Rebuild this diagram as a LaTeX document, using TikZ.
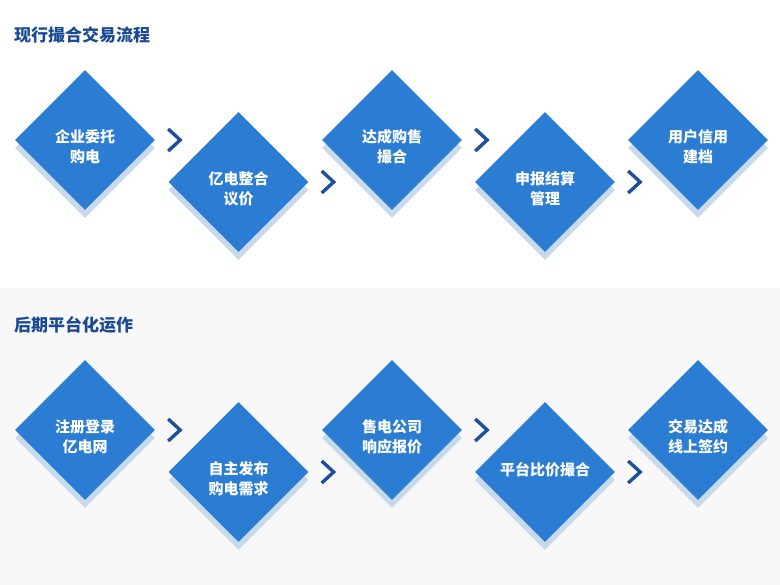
\documentclass[tikz,border=0pt]{standalone}
\usepackage{fontspec}
\setmainfont{Noto Sans CJK SC}
\usepackage{tikz}
\usetikzlibrary{positioning,shapes.geometric,shadows}
\definecolor{stepblue}{HTML}{2B7CD3}
\definecolor{shadeblue}{HTML}{C9D9EC}
\definecolor{navy}{HTML}{1D4F9D}
\definecolor{titleblue}{HTML}{1B4A94}
\definecolor{panelgray}{HTML}{F8F8F9}
\tikzset{
  dnode/.style={diamond,fill=stepblue,draw=none,minimum width=140pt,minimum height=140pt,
    inner sep=0pt,drop shadow={shadow xshift=0pt,shadow yshift=-8pt,fill=shadeblue,opacity=1}},
  lbl/.style={text=white,font=\fontsize{15}{20}\selectfont\bfseries,align=center,inner sep=0pt},
  ttl/.style={text=titleblue,font=\fontsize{17}{20}\selectfont\bfseries,anchor=west,inner sep=0pt},
  chev/.style={draw=navy,line width=3.4pt,miter limit=10},
}
\newcommand{\chev}[1]{\draw[chev] ([shift={(-6,-11)}]#1)--([shift={(6,0)}]#1)--([shift={(-6,11)}]#1);}
\begin{document}
\begin{tikzpicture}[x=1pt,y=-1pt]
  \useasboundingbox (0,0) rectangle (780,585);
  \fill[panelgray] (0,288) rectangle (780,585);
  % first row
  \node[ttl] (title1) at (14,34.5){现行撮合交易流程};
  \node[dnode] (a1) at (85,140){}; \node[dnode] (a2) at (238.5,182){};
  \node[dnode] (a3) at (392,140){}; \node[dnode] (a4) at (545,182){};
  \node[dnode] (a5) at (698,140){};
  \node[lbl] (ta1) at ([yshift=-7pt]a1){企业委托\\购电}; \node[lbl] (ta2) at ([yshift=-7pt]a2){亿电整合\\议价};
  \node[lbl] (ta3) at ([yshift=-7pt]a3){达成购售\\撮合}; \node[lbl] (ta4) at ([yshift=-7pt]a4){申报结算\\管理};
  \node[lbl] (ta5) at ([yshift=-7pt]a5){用户信用\\建档};
  \coordinate[right=19pt of a1.east] (ca1); \coordinate[right=19pt of a2.east] (ca2);
  \coordinate[right=19pt of a3.east] (ca3); \coordinate[right=19pt of a4.east] (ca4);
  \chev{ca1} \chev{ca2} \chev{ca3} \chev{ca4}
  % second row
  \node[ttl] (title2) at (14,324.5){后期平台化运作};
  \node[dnode] (b1) at (85,430){}; \node[dnode] (b2) at (238.5,472){};
  \node[dnode] (b3) at (392,430){}; \node[dnode] (b4) at (545,472){};
  \node[dnode] (b5) at (698,430){};
  \node[lbl] (tb1) at ([yshift=-7pt]b1){注册登录\\亿电网}; \node[lbl] (tb2) at ([yshift=-7pt]b2){自主发布\\购电需求};
  \node[lbl] (tb3) at ([yshift=-7pt]b3){售电公司\\响应报价}; \node[lbl] (tb4) at ([yshift=2pt]b4){平台比价撮合};
  \node[lbl] (tb5) at ([yshift=-7pt]b5){交易达成\\线上签约};
  \coordinate[right=19pt of b1.east] (cb1); \coordinate[right=19pt of b2.east] (cb2);
  \coordinate[right=19pt of b3.east] (cb3); \coordinate[right=19pt of b4.east] (cb4);
  \chev{cb1} \chev{cb2} \chev{cb3} \chev{cb4}
\end{tikzpicture}
\end{document}
